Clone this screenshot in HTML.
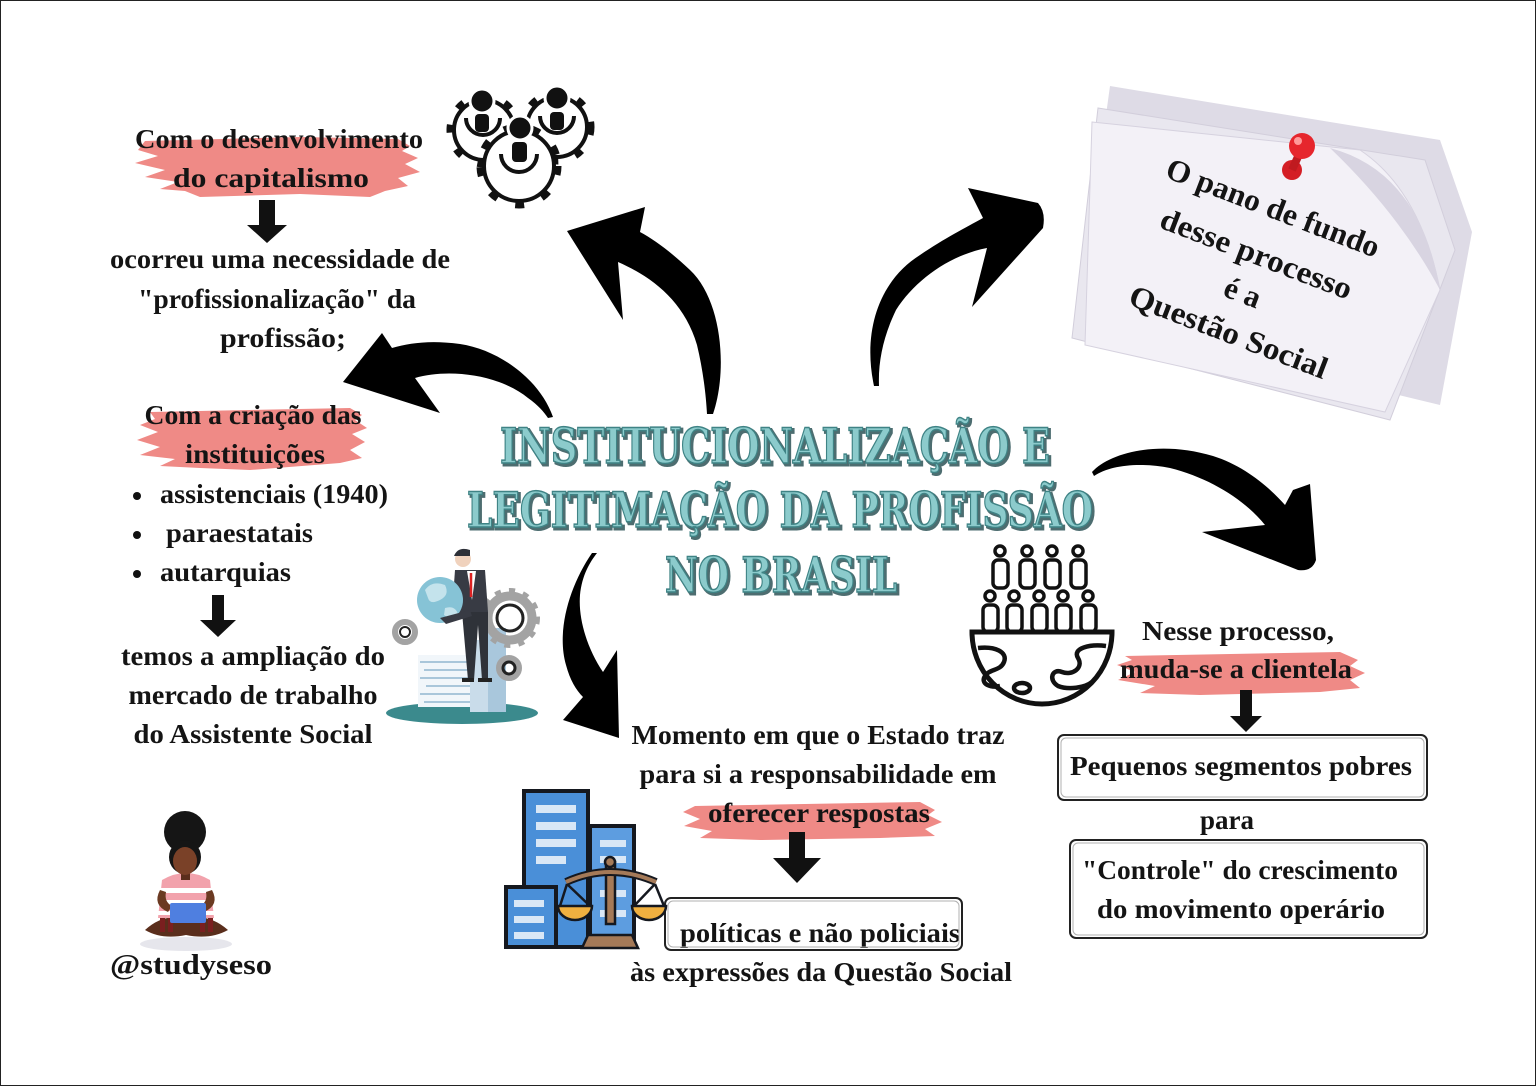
<!DOCTYPE html>
<html><head><meta charset="utf-8">
<style>
html,body{margin:0;padding:0;background:#fff;}
svg{display:block;}
.t{font-family:"Liberation Serif",serif;font-weight:700;font-size:27px;fill:#141414;}
.ti{font-family:"DejaVu Serif","Liberation Serif",serif;font-weight:700;font-size:49px;}
</style></head>
<body>
<svg width="1536" height="1086" viewBox="0 0 1536 1086" xmlns="http://www.w3.org/2000/svg">
<rect x="0" y="0" width="1536" height="1086" fill="#fff"/>
<rect x="0.5" y="0.5" width="1535" height="1085" fill="none" stroke="#222" stroke-width="1"/>

<!-- pink brushes -->
<g fill="#ef8a86">
<path d="M145,141 L300,137 L398,139 L410,146 L402,151 L418,158 L405,164 L420,172 L398,178 L408,186 L385,191 L370,197 L300,194 L200,197 L185,191 L160,189 L178,182 L145,177 L165,170 L135,163 L158,156 L138,150 Z"/>
<path d="M150,412 L350,408 L362,415 L355,420 L367,428 L352,434 L365,442 L350,450 L362,458 L340,463 L250,470 L200,468 L160,466 L175,459 L140,455 L160,447 L137,440 L158,432 L140,425 L155,419 Z"/>
<path d="M1125,656 L1340,652 L1358,660 L1350,666 L1365,673 L1350,680 L1360,688 L1320,692 L1200,695 L1140,693 L1155,686 L1118,680 L1135,672 L1117,665 L1132,660 Z"/>
<path d="M695,806 L920,802 L935,810 L928,815 L942,822 L925,829 L935,836 L880,838 L760,840 L700,838 L712,831 L684,826 L700,819 L683,812 Z"/>
</g>

<!-- small down arrows -->
<g fill="#111">
<path d="M259,200 L275,200 L275,225 L287,225 L267,243 L247,225 L259,225 Z"/>
<path d="M212,595 L224,595 L224,620 L236,620 L218,637 L200,620 L212,620 Z"/>
<path d="M1240,690 L1252,690 L1252,716 L1262,716 L1246,732 L1230,716 L1240,716 Z"/>
<path d="M789,832 L805,832 L805,858 L821,858 L797,883 L773,858 L789,858 Z"/>
</g>

<!-- big curved arrows -->
<g fill="#000">
<path d="M713,414 C728,370 722,300 690,270 C672,253 655,240 640,232 L645,207 L567,231 L623,320 L618,262 C650,276 684,300 697,345 C703,370 706,395 707,414 Z"/>
<path d="M553,417 C540,380 500,350 460,344 C430,340 410,343 392,348 L382,333 L343,382 L440,413 L415,378 C450,368 500,375 528,398 C538,405 544,412 548,418 Z"/>
<path d="M874,386 C862,330 880,280 920,255 C945,238 965,228 983,218 L968,188 L1038,203 Q1046,212 1043,228 L972,307 L987,248 C950,255 915,280 896,310 C884,335 878,360 879,386 Z"/>
<path d="M1092,472 C1110,452 1160,440 1213,456 C1245,466 1270,488 1285,505 L1293,490 L1310,484 L1316,560 Q1312,572 1298,570 L1202,532 L1265,525 C1245,500 1210,478 1170,468 C1140,462 1110,465 1094,476 Z"/>
<path d="M592,553 C570,585 556,630 566,665 C570,680 576,690 583,697 L563,720 L619,738 L617,650 L603,672 C588,650 578,620 580,595 C582,575 590,562 597,553 Z"/>
</g>

<!-- gear people icon -->
<g fill="none" stroke="#111">
<circle cx="484" cy="130" r="30" stroke-width="4"/>
<circle cx="484" cy="130" r="34" stroke-width="7" stroke-dasharray="8 18"/>
<circle cx="557" cy="127" r="30" stroke-width="4"/>
<circle cx="557" cy="127" r="34" stroke-width="7" stroke-dasharray="8 18"/>
<circle cx="519" cy="166" r="35" stroke-width="4" fill="#fff"/>
<circle cx="519" cy="166" r="39" stroke-width="7" stroke-dasharray="9 19"/>
<path d="M466,118 A17,17 0 0 0 500,118" stroke-width="4"/>
<path d="M540,116 A17,17 0 0 0 574,116" stroke-width="4"/>
<path d="M501,154 A18,18 0 0 0 537,154" stroke-width="4"/>
</g>
<g fill="#111" stroke="#fff" stroke-width="3">
<circle cx="482" cy="101" r="12"/>
<circle cx="557" cy="98" r="12"/>
<circle cx="520" cy="128" r="12"/>
</g>
<g fill="#111">
<rect x="475" y="114" width="14" height="18" rx="4"/>
<rect x="550" y="112" width="14" height="18" rx="4"/>
<rect x="512" y="142" width="15" height="20" rx="4"/>
</g>

<!-- sticky notes -->
<polygon points="1110,86 1440,140 1472,232 1440,405 1078,318" fill="#dedbe6"/>
<polygon points="1098,108 1425,160 1455,250 1390,420 1072,338" fill="#e9e7ef" stroke="#d2cedb" stroke-width="1"/>
<path d="M1092,122 L1360,150 Q1420,190 1440,290 L1385,412 L1085,345 Z" fill="#f3f1f7" stroke="#d6d2df" stroke-width="1"/>
<path d="M1330,148 Q1420,172 1440,290 Q1400,215 1330,148 Z" fill="#d8d4e1"/>
<circle cx="1292" cy="170" r="10" fill="#d41e25"/>
<path d="M1292,170 L1301,150" stroke="#c01a20" stroke-width="8"/>
<circle cx="1302" cy="146" r="13" fill="#e6262d"/>
<circle cx="1298" cy="141" r="4" fill="#ff9a9a"/>
<g transform="translate(1273,208) rotate(21)" text-anchor="middle">
<text x="0" y="10" textLength="226" lengthAdjust="spacingAndGlyphs" class="t" style="font-size:31px">O pano de fundo</text>
<text x="1" y="59" textLength="203" lengthAdjust="spacingAndGlyphs" class="t" style="font-size:31px">desse processo</text>
<text x="2" y="100" class="t" style="font-size:31px">é a</text>
<text x="3" y="142" textLength="210" lengthAdjust="spacingAndGlyphs" class="t" style="font-size:31px">Questão Social</text>
</g>

<!-- title -->
<g class="ti" text-anchor="middle">
<g fill="#4d6d70" stroke="#4d6d70" stroke-width="3" transform="translate(2,2)">
<text x="775" y="463" textLength="550" lengthAdjust="spacingAndGlyphs">INSTITUCIONALIZAÇÃO E</text>
<text x="780" y="527" textLength="626" lengthAdjust="spacingAndGlyphs">LEGITIMAÇÃO DA PROFISSÃO</text>
<text x="781" y="592" textLength="232" lengthAdjust="spacingAndGlyphs">NO BRASIL</text>
</g>
<g fill="#8ccbcc" stroke="#3f8385" stroke-width="1.5">
<text x="775" y="463" textLength="550" lengthAdjust="spacingAndGlyphs">INSTITUCIONALIZAÇÃO E</text>
<text x="780" y="527" textLength="626" lengthAdjust="spacingAndGlyphs">LEGITIMAÇÃO DA PROFISSÃO</text>
<text x="781" y="592" textLength="232" lengthAdjust="spacingAndGlyphs">NO BRASIL</text>
</g>
</g>

<!-- left texts -->
<g class="t" text-anchor="middle">
<text x="279" y="148" textLength="288" lengthAdjust="spacingAndGlyphs">Com o desenvolvimento</text>
<text x="271" y="187" textLength="196" lengthAdjust="spacingAndGlyphs">do capitalismo</text>
<text x="280" y="268" textLength="340" lengthAdjust="spacingAndGlyphs">ocorreu uma necessidade de</text>
<text x="277" y="308" textLength="278" lengthAdjust="spacingAndGlyphs">"profissionalização" da</text>
<text x="283" y="347" textLength="126" lengthAdjust="spacingAndGlyphs">profissão;</text>
<text x="253" y="424" textLength="217" lengthAdjust="spacingAndGlyphs">Com a criação das</text>
<text x="255" y="463" textLength="140" lengthAdjust="spacingAndGlyphs">instituições</text>
<text x="253" y="665" textLength="264" lengthAdjust="spacingAndGlyphs">temos  a ampliação do</text>
<text x="253" y="704" textLength="249" lengthAdjust="spacingAndGlyphs">mercado de trabalho</text>
<text x="253" y="743" textLength="239" lengthAdjust="spacingAndGlyphs">do Assistente Social</text>
</g>
<g class="t">
<text x="160" y="503" textLength="228" lengthAdjust="spacingAndGlyphs">assistenciais (1940)</text>
<text x="166" y="542" textLength="147" lengthAdjust="spacingAndGlyphs">paraestatais</text>
<text x="160" y="581" textLength="131" lengthAdjust="spacingAndGlyphs">autarquias</text>
</g>
<g fill="#111">
<circle cx="137" cy="496" r="4"/>
<circle cx="137" cy="535" r="4"/>
<circle cx="137" cy="574" r="4"/>
</g>

<!-- businessman illustration -->
<ellipse cx="462" cy="713" rx="76" ry="11" fill="#3b8a8d"/>
<g>
<rect x="418" y="655" width="70" height="52" fill="#f1f6fa"/>
<g stroke="#a9c6da" stroke-width="2">
<line x1="420" y1="662" x2="486" y2="662"/><line x1="424" y1="670" x2="486" y2="670"/>
<line x1="420" y1="678" x2="486" y2="678"/><line x1="426" y1="686" x2="486" y2="686"/>
<line x1="420" y1="694" x2="486" y2="694"/><line x1="424" y1="702" x2="486" y2="702"/>
</g>
<rect x="484" y="628" width="22" height="84" fill="#a9c7dc"/>
<rect x="470" y="640" width="18" height="72" fill="#c9dcea"/>
</g>
<g fill="none">
<circle cx="510" cy="618" r="22" stroke="#a3a3a3" stroke-width="9"/>
<circle cx="510" cy="618" r="27" stroke="#a3a3a3" stroke-width="6" stroke-dasharray="6 8"/>
<circle cx="510" cy="618" r="13" stroke="#222" stroke-width="3"/>
<circle cx="405" cy="632" r="10" stroke="#a3a3a3" stroke-width="6"/>
<circle cx="405" cy="632" r="5" stroke="#222" stroke-width="2"/>
<circle cx="509" cy="668" r="10" stroke="#a3a3a3" stroke-width="6"/>
<circle cx="509" cy="668" r="6" stroke="#222" stroke-width="3"/>
</g>
<circle cx="463" cy="559" r="8" fill="#f0d2bd"/>
<path d="M454,556 Q458,546 470,550 L470,556 Z" fill="#2d3038"/>
<path d="M455,570 L485,570 L488,612 L475,618 L452,612 Z" fill="#383b44"/>
<path d="M467,571 L476,571 L472,600 Z" fill="#fff"/>
<line x1="471" y1="573" x2="471" y2="597" stroke="#d22" stroke-width="2.5"/>
<path d="M462,612 L488,612 L488,680 L482,680 L478,625 L474,680 L468,680 Z" fill="#2f3239"/>
<rect x="462" y="678" width="12" height="4" fill="#222"/>
<rect x="478" y="678" width="14" height="4" fill="#222"/>
<circle cx="440" cy="600" r="23" fill="#86c3d6"/>
<path d="M425,590 Q432,580 445,585 Q450,595 440,600 Q430,605 428,598 Z M445,608 Q455,605 458,614 Q450,620 444,615 Z" fill="#c4e3ec"/>
<path d="M440,618 L470,610 L472,616 L446,624 Z" fill="#383b44"/>

<!-- center bottom texts -->
<g class="t" text-anchor="middle">
<text x="818" y="744" textLength="373" lengthAdjust="spacingAndGlyphs">Momento em que o Estado traz</text>
<text x="818" y="783" textLength="357" lengthAdjust="spacingAndGlyphs">para si a responsabilidade em</text>
<text x="819" y="822" textLength="222" lengthAdjust="spacingAndGlyphs">oferecer respostas</text>
<text x="820" y="942" textLength="280" lengthAdjust="spacingAndGlyphs">políticas e não policiais</text>
<text x="821" y="981" textLength="382" lengthAdjust="spacingAndGlyphs">às expressões da Questão Social</text>
</g>
<rect x="665" y="898" width="297" height="52" rx="6" fill="none" stroke="#222" stroke-width="2"/>
<rect x="668" y="901" width="291" height="46" rx="5" fill="none" stroke="#b0b0b0" stroke-width="1"/>

<!-- buildings + scales -->
<g stroke="#15181f" stroke-width="4">
<rect x="524" y="791" width="64" height="156" fill="#4a8fd8"/>
<rect x="590" y="826" width="44" height="120" fill="#5d9de0"/>
<rect x="506" y="887" width="50" height="60" fill="#4a8fd8"/>
</g>
<g fill="#d9e7f6">
<rect x="536" y="805" width="40" height="8"/><rect x="536" y="822" width="40" height="8"/>
<rect x="536" y="839" width="40" height="8"/><rect x="536" y="856" width="30" height="8"/>
<rect x="600" y="840" width="26" height="7"/><rect x="600" y="856" width="26" height="7"/>
<rect x="600" y="890" width="26" height="7"/><rect x="600" y="910" width="26" height="7"/>
<rect x="514" y="900" width="30" height="7"/><rect x="514" y="916" width="30" height="7"/><rect x="514" y="932" width="30" height="7"/>
</g>
<g stroke="#15181f" stroke-width="2.5">
<rect x="606" y="862" width="9" height="62" fill="#a57a58"/>
<path d="M588,935 L632,935 L638,948 L582,948 Z" fill="#a57a58"/>
<path d="M566,882 Q610,862 656,882" fill="none" stroke-width="8"/>
<path d="M566,882 Q610,862 656,882" fill="none" stroke="#a57a58" stroke-width="4"/>
<line x1="567" y1="884" x2="560" y2="906" /><line x1="567" y1="884" x2="590" y2="906"/>
<line x1="655" y1="884" x2="634" y2="906"/><line x1="655" y1="884" x2="664" y2="906"/>
<path d="M558,906 A17,14 0 0 0 592,906 Z" fill="#f0b040"/>
<path d="M632,906 A17,14 0 0 0 666,906 Z" fill="#f0b040"/>
<circle cx="610" cy="862" r="5" fill="#a57a58"/>
</g>

<!-- people globe icon -->
<g fill="none" stroke="#111" stroke-width="3.5">
<circle cx="1000" cy="551" r="5"/><circle cx="1027" cy="551" r="5"/><circle cx="1052" cy="551" r="5"/><circle cx="1078" cy="551" r="5"/>
<rect x="993" y="560" width="15" height="28" rx="5"/><rect x="1020" y="560" width="15" height="28" rx="5"/>
<rect x="1045" y="560" width="15" height="28" rx="5"/><rect x="1071" y="560" width="15" height="28" rx="5"/>
</g>
<g fill="#fff" stroke="#111" stroke-width="3.5">
<circle cx="990" cy="596" r="5"/><circle cx="1014" cy="596" r="5"/><circle cx="1039" cy="596" r="5"/><circle cx="1063" cy="596" r="5"/><circle cx="1088" cy="596" r="5"/>
<rect x="983" y="605" width="15" height="27" rx="5"/><rect x="1007" y="605" width="15" height="27" rx="5"/>
<rect x="1032" y="605" width="15" height="27" rx="5"/><rect x="1056" y="605" width="15" height="27" rx="5"/><rect x="1081" y="605" width="15" height="27" rx="5"/>
</g>
<path d="M972,632 L1112,632 A70,72 0 0 1 972,632 Z" fill="#fff" stroke="#111" stroke-width="5"/>
<g fill="none" stroke="#111" stroke-width="4.5">
<path d="M978,648 C995,646 1008,652 1004,662 C1000,672 988,668 984,678 C982,684 990,688 1000,686"/>
<path d="M1106,646 C1090,644 1072,648 1078,658 C1084,668 1072,676 1062,672 C1052,668 1048,680 1058,686 C1068,690 1085,688 1092,682"/>
<ellipse cx="1022" cy="688" rx="8" ry="5"/>
</g>

<!-- right texts -->
<g class="t" text-anchor="middle">
<text x="1238" y="640" textLength="192" lengthAdjust="spacingAndGlyphs">Nesse processo,</text>
<text x="1236" y="678" textLength="232" lengthAdjust="spacingAndGlyphs">muda-se a clientela</text>
<text x="1241" y="775" textLength="342" lengthAdjust="spacingAndGlyphs">Pequenos segmentos pobres</text>
<text x="1227" y="829" textLength="54" lengthAdjust="spacingAndGlyphs">para</text>
<text x="1240" y="879" textLength="316" lengthAdjust="spacingAndGlyphs">"Controle" do crescimento</text>
<text x="1241" y="918" textLength="288" lengthAdjust="spacingAndGlyphs">do movimento operário</text>
</g>
<rect x="1058" y="735" width="369" height="65" rx="6" fill="none" stroke="#222" stroke-width="2"/>
<rect x="1061" y="738" width="363" height="59" rx="5" fill="none" stroke="#b0b0b0" stroke-width="1"/>
<rect x="1070" y="840" width="357" height="98" rx="6" fill="none" stroke="#222" stroke-width="2"/>
<rect x="1073" y="843" width="351" height="92" rx="5" fill="none" stroke="#b0b0b0" stroke-width="1"/>

<!-- avatar -->
<ellipse cx="186" cy="944" rx="46" ry="7" fill="#e6e6ec"/>
<path d="M145,930 Q165,912 186,920 Q207,912 228,930 Q210,940 186,935 Q162,940 145,930 Z" fill="#5a2e1c"/>
<g fill="#7a1f1f"><rect x="160" y="918" width="5" height="14"/><rect x="168" y="918" width="5" height="14"/><rect x="200" y="918" width="5" height="14"/><rect x="208" y="918" width="5" height="14"/></g>
<path d="M162,880 Q186,866 210,880 L214,918 L158,918 Z" fill="#f2a2ac"/>
<g fill="#fff"><rect x="160" y="888" width="52" height="5"/><rect x="159" y="900" width="54" height="5"/><rect x="158" y="911" width="56" height="4"/></g>
<path d="M160,890 Q152,905 168,912 L172,906 Q164,902 166,892 Z" fill="#6b3a22"/>
<path d="M212,890 Q220,905 204,912 L200,906 Q208,902 206,892 Z" fill="#6b3a22"/>
<rect x="170" y="903" width="36" height="20" rx="2" fill="#4f7fe0"/>
<circle cx="185" cy="832" r="21" fill="#151515"/>
<ellipse cx="185" cy="857" rx="16" ry="17" fill="#151515"/>
<rect x="181" y="870" width="9" height="10" fill="#5a2e1c"/>
<ellipse cx="185" cy="861" rx="12" ry="14" fill="#7a4128"/>
<text x="191" y="974" class="t" style="font-size:29px" text-anchor="middle" textLength="162" lengthAdjust="spacingAndGlyphs">@studyseso</text>
</svg>
</body></html>
